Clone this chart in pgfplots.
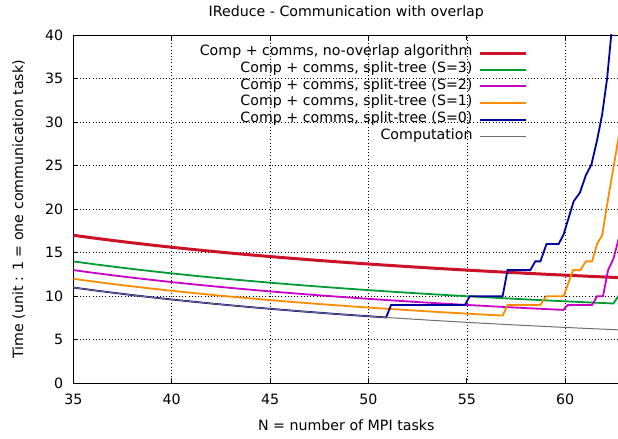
\documentclass[border=0pt]{standalone}
\usepackage{fontspec}
\setmainfont{DejaVu Sans}
\usepackage{pgfplots}
\pgfplotsset{compat=1.18}
\definecolor{cred}{RGB}{204,18,40}
\definecolor{cgreen}{RGB}{0,155,50}
\definecolor{cmag}{RGB}{200,0,200}
\definecolor{corange}{RGB}{255,140,0}
\definecolor{cblue}{RGB}{0,0,160}
\definecolor{cgray}{RGB}{110,110,110}
\begin{document}
\fontsize{14.2bp}{16.67bp}\selectfont
\begin{tikzpicture}
\begin{axis}[
  scale only axis,
  width=546bp, height=348.3bp,
  xmin=35, xmax=62.75, ymin=0, ymax=40,
  xtick={35,40,45,50,55,60},
  ytick={0,5,10,15,20,25,30,35,40},
  ytick pos=left,
  tick align=inside,
  major tick length=5bp,
  tick style={black, line width=0.8bp},
  axis line style={black, line width=0.8bp},
  grid=major,
  major grid style={black, line width=0.6bp, dash pattern=on 0.8bp off 2.4bp},
  /pgf/number format/assume math mode=true,
  tick label style={font=\fontsize{14.2bp}{16bp}\selectfont},
  xticklabel style={anchor=base, yshift=-20.7bp},
  yticklabel style={anchor=east, inner sep=0pt, xshift=-10bp},
  title={IReduce - Communication with overlap},
  every axis title/.style={at={(axis description cs:0.5,1.0517)}, anchor=base, inner sep=0pt},
  xlabel={N = number of MPI tasks},
  xlabel style={at={(axis description cs:0.5,-0.135)}, anchor=base, inner sep=0pt},
  ylabel={Time (unit : 1 = one communication task)},
  ylabel style={at={(axis description cs:-0.0918,0.5)}, anchor=base, inner sep=0pt},
  legend plot pos=right,
  legend cell align=right,
  legend image code/.code={\draw[#1] (0bp,0bp) -- (45.6bp,0bp);},
  legend style={draw=none, fill=none, at={(axis description cs:0.8315,1)}, anchor=north east,
    inner sep=0pt, row sep=0pt, column sep=0pt, yshift=-9.5bp,
    nodes={inner xsep=0pt, inner ysep=0pt, text height=11bp, text depth=5.67bp},
    font=\fontsize{14.2bp}{16.67bp}\selectfont},
  /tikz/every odd column/.append style={column sep=6bp},
]
\addplot[cred, line width=3bp] coordinates {(35,17.000) (36,16.694) (37,16.405) (38,16.132) (39,15.872) (40,15.625) (41,15.390) (42,15.167) (43,14.953) (44,14.750) (45,14.556) (46,14.370) (47,14.191) (48,14.021) (49,13.857) (50,13.700) (51,13.549) (52,13.404) (53,13.264) (54,13.130) (55,13.000) (56,12.875) (57,12.754) (58,12.638) (59,12.525) (60,12.417) (61,12.311) (62,12.210) (62.8,12.131)};
\addlegendentry{Comp + comms, no-overlap algorithm}
\addplot[cgreen, line width=1.8bp] coordinates {(35,14.000) (36,13.694) (37,13.405) (38,13.132) (39,12.872) (40,12.625) (41,12.390) (42,12.167) (43,11.953) (44,11.750) (45,11.556) (46,11.370) (47,11.191) (48,11.021) (49,10.857) (50,10.700) (51,10.549) (52,10.404) (53,10.264) (54,10.130) (55,10.000) (56,9.875) (57,9.754) (58,9.638) (59,9.525) (60,9.417) (61,9.311) (62,9.210) (62.45,9.165) (62.7,10) (62.8,10)};
\addlegendentry{Comp + comms, split-tree (S=3)}
\addplot[cmag, line width=1.8bp] coordinates {(35,13.000) (36,12.694) (37,12.405) (38,12.132) (39,11.872) (40,11.625) (41,11.390) (42,11.167) (43,10.953) (44,10.750) (45,10.556) (46,10.370) (47,10.191) (48,10.021) (49,9.857) (50,9.700) (51,9.549) (52,9.404) (53,9.264) (54,9.130) (55,9.000) (56,8.875) (57,8.754) (58,8.638) (59,8.525) (59.9,8.427) (60.13,9) (61.37,9) (61.62,10) (61.92,10) (62.18,13) (62.45,14.3) (62.8,17.3)};
\addlegendentry{Comp + comms, split-tree (S=2)}
\addplot[corange, line width=1.8bp] coordinates {(35,12.000) (36,11.694) (37,11.405) (38,11.132) (39,10.872) (40,10.625) (41,10.390) (42,10.167) (43,9.953) (44,9.750) (45,9.556) (46,9.370) (47,9.191) (48,9.021) (49,8.857) (50,8.700) (51,8.549) (52,8.404) (53,8.264) (54,8.130) (55,8.000) (56,7.875) (56.82,7.776) (57.07,9) (58.74,9) (59.03,10) (59.92,10) (60.4,13) (60.77,13) (61.05,14) (61.37,14) (61.62,16) (61.88,17) (62.13,20.5) (62.8,29.4)};
\addlegendentry{Comp + comms, split-tree (S=1)}
\addplot[cblue, line width=1.8bp] coordinates {(35,11.000) (36,10.694) (37,10.405) (38,10.132) (39,9.872) (40,9.625) (41,9.390) (42,9.167) (43,8.953) (44,8.750) (45,8.556) (46,8.370) (47,8.191) (48,8.021) (49,7.857) (50,7.700) (50.9,7.564) (51.15,9) (54.9,9) (55.15,10) (56.82,10) (57.07,13) (58.23,13) (58.48,14) (58.74,14) (59.05,16) (59.67,16) (59.92,17.1) (60.43,20.9) (60.75,21.9) (61.05,23.9) (61.33,25.1) (61.62,27.9) (61.88,30.9) (62.13,35) (62.34,40) (62.5,43.8)};
\addlegendentry{Comp + comms, split-tree (S=0)}
\addplot[cgray, line width=1bp] coordinates {(35,11.000) (36,10.694) (37,10.405) (38,10.132) (39,9.872) (40,9.625) (41,9.390) (42,9.167) (43,8.953) (44,8.750) (45,8.556) (46,8.370) (47,8.191) (48,8.021) (49,7.857) (50,7.700) (51,7.549) (52,7.404) (53,7.264) (54,7.130) (55,7.000) (56,6.875) (57,6.754) (58,6.638) (59,6.525) (60,6.417) (61,6.311) (62,6.210) (62.8,6.131)};
\addlegendentry{Computation}
\end{axis}
\pgfresetboundingbox
\useasboundingbox ([xshift=-73.3bp,yshift=-55.7bp]current axis.south west) rectangle ([xshift=544.7bp,yshift=35bp]current axis.north west);
\end{tikzpicture}
\end{document}
